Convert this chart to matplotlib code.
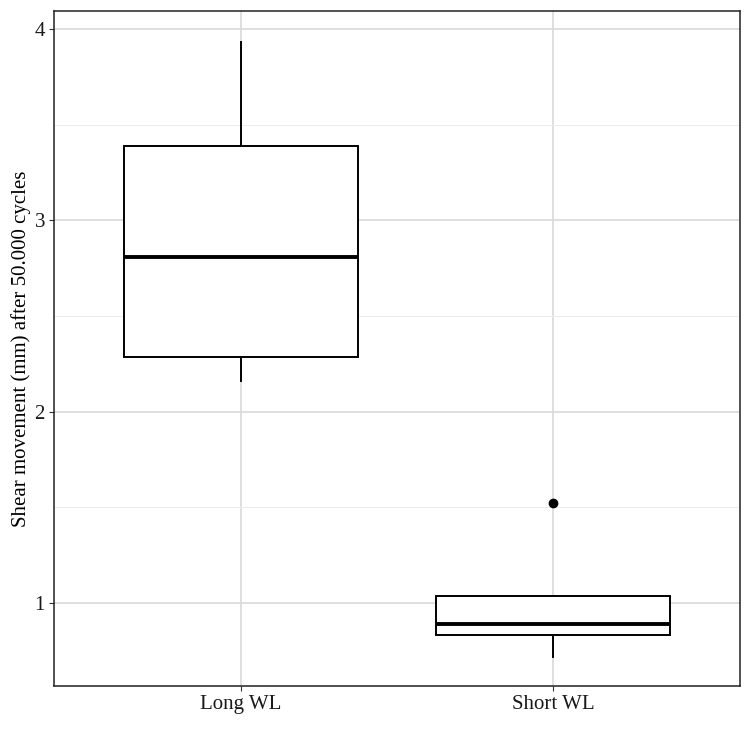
import matplotlib
matplotlib.use("Agg")
import matplotlib.pyplot as plt
from matplotlib.ticker import MultipleLocator

plt.rcParams['font.family'] = ['Liberation Serif', 'DejaVu Serif']

categories = ["Long WL", "Short WL"]
whislo = [2.162, 0.717]
q1 = [2.287, 0.829]
med = [2.811, 0.889]
q3 = [3.390, 1.037]
whishi = [3.936, 1.037]
outliers = [[], [1.520]]

stats = []
for i, c in enumerate(categories):
    stats.append(dict(label=c, whislo=whislo[i], q1=q1[i], med=med[i],
                      q3=q3[i], whishi=whishi[i], fliers=outliers[i]))

fig = plt.figure(figsize=(7.5, 7.5), dpi=100)
ax = fig.add_axes([54/750, 1-686/750, (740-54)/750, (686-11)/750])

ax.bxp(stats, positions=[1, 2], widths=0.75, showcaps=False, patch_artist=True,
       boxprops=dict(facecolor='white', edgecolor='black', linewidth=1.4),
       medianprops=dict(color='black', linewidth=2.8, solid_capstyle='butt'),
       whiskerprops=dict(color='black', linewidth=1.4),
       flierprops=dict(marker='o', markerfacecolor='black', markeredgecolor='black', markersize=6),
       zorder=3)

ax.set_xlim(0.4, 2.6)
ax.set_ylim(0.564, 4.096)
ax.set_xticks([1, 2])
ax.set_xticklabels(categories)
ax.yaxis.set_major_locator(MultipleLocator(1))
ax.yaxis.set_minor_locator(MultipleLocator(0.5))
ax.set_ylabel("Shear movement (mm) after 50.000 cycles", fontsize=15, labelpad=2.5)

ax.grid(True, which='major', color='#d9d9d9', linewidth=1.2, zorder=0)
ax.grid(True, which='minor', axis='y', color='#ebebeb', linewidth=0.7, zorder=0)
ax.set_axisbelow(True)
ax.tick_params(axis='both', which='major', labelsize=15, length=3.5, width=0.8,
               color='#333333', labelcolor='#1a1a1a', pad=3)
ax.tick_params(axis='y', which='minor', length=0)
for s in ax.spines.values():
    s.set_color('#222222')
    s.set_linewidth(1.1)

fig.savefig("out.png", dpi=100, facecolor='white')
